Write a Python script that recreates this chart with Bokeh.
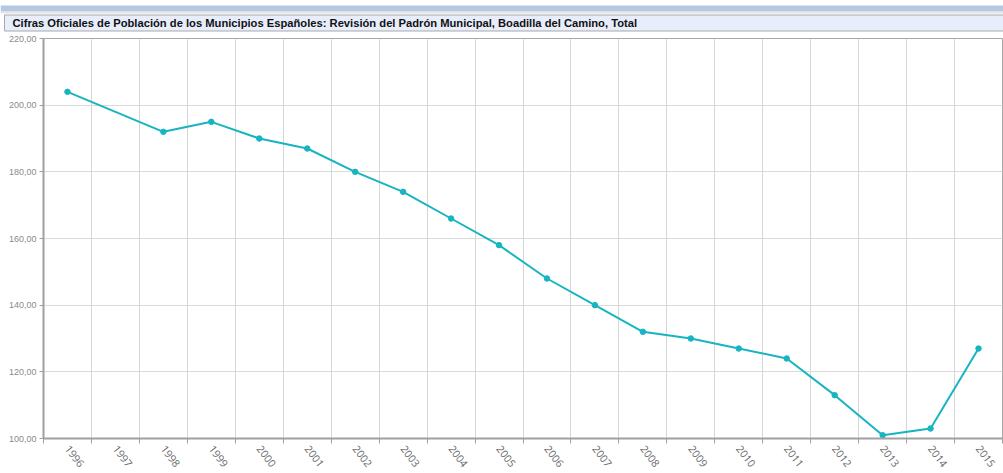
import math
from bokeh.plotting import figure
from bokeh.models import Range1d, FixedTicker, ColumnDataSource
from bokeh.layouts import column
from bokeh.core.properties import value
from bokeh.embed import file_html
from bokeh.resources import INLINE

# ---- data ----
title_text = "Cifras Oficiales de Población de los Municipios Españoles: Revisión del Padrón Municipal, Boadilla del Camino, Total"
years = ["1996", "1997", "1998", "1999", "2000", "2001", "2002", "2003", "2004", "2005",
         "2006", "2007", "2008", "2009", "2010", "2011", "2012", "2013", "2014", "2015"]
population = [204, None, 192, 195, 190, 187, 180, 174, 166, 158,
              148, 140, 132, 130, 127, 124, 113, 101, 103, 127]
y_ticks = [100, 120, 140, 160, 180, 200, 220]
y_tick_labels = ["100,00", "120,00", "140,00", "160,00", "180,00", "200,00", "220,00"]

W = 1003
TOP_H = 34
MAIN_H = 439

# ---- title bar ----
top = figure(width=W, height=TOP_H, output_backend="svg", toolbar_location=None,
             x_range=Range1d(0, W), y_range=Range1d(TOP_H, 0),
             min_border=0, min_border_left=0, min_border_right=0,
             min_border_top=0, min_border_bottom=0)
top.frame_align = False
top.axis.visible = False
top.grid.visible = False
top.outline_line_color = None
top.quad(left=[0], right=[W], top=[5], bottom=[11], fill_color="#b4c8e2", line_color=None)
top.quad(left=[0], right=[W], top=[11], bottom=[13], fill_color="#e4e4e4", line_color=None)
top.quad(left=[4], right=[W + 4], top=[14.5], bottom=[30.5], fill_color="#e7edfa",
         line_color="#a9a9a9", line_width=1)
top.text(x=[12], y=[22.5], text=[title_text], text_font=value("Liberation Sans"),
         text_font_size="11.2px", text_font_style="bold", text_color="#111111",
         text_baseline="middle", text_align="left")

# ---- main chart ----
n = len(years)
p = figure(width=W, height=MAIN_H, output_backend="svg", toolbar_location=None,
           x_range=Range1d(-0.5, n - 0.5), y_range=Range1d(100, 220),
           min_border_left=43, min_border_right=1, min_border_top=4, min_border_bottom=30)
p.frame_align = False

xs = [i for i, v in enumerate(population) if v is not None]
ys = [v for v in population if v is not None]
src = ColumnDataSource(data=dict(x=xs, y=ys))

line_color = "#16b5c1"
p.line("x", "y", source=src, line_color=line_color, line_width=2)
p.scatter("x", "y", source=src, size=5.5, fill_color=line_color, line_color=line_color)

centers = list(range(n))
bounds = [i - 0.5 for i in range(n + 1)]

xa = p.xaxis[0]
xa.ticker = FixedTicker(ticks=centers, minor_ticks=bounds)
xa.major_label_overrides = {i: y for i, y in zip(centers, years)}
xa.major_label_orientation = -0.92
xa.major_tick_line_color = None
xa.major_tick_in = 0
xa.major_tick_out = 0
xa.minor_tick_in = 0
xa.minor_tick_out = 5
xa.minor_tick_line_color = "#a0a0a0"
xa.axis_line_color = "#a0a0a0"
xa.axis_line_width = 2
xa.major_label_text_font = "Open Sans"
xa.major_label_text_font_size = "10.5px"
xa.major_label_text_color = "#6a6a6a"
xa.major_label_standoff = 3

# y axis
ya = p.yaxis[0]
ya.ticker = FixedTicker(ticks=y_ticks)
ya.major_label_overrides = {t: l for t, l in zip(y_ticks, y_tick_labels)}
ya.major_tick_in = 0
ya.major_tick_out = 4
ya.major_tick_line_color = "#a0a0a0"
ya.minor_tick_line_color = None
ya.axis_line_color = "#a0a0a0"
ya.axis_line_width = 2
ya.major_label_text_font = "Liberation Sans"
ya.major_label_text_font_size = "9px"
ya.major_label_text_color = "#8a8a8a"
ya.major_label_standoff = 3

p.xgrid.ticker = FixedTicker(ticks=bounds)
p.xgrid.grid_line_color = "#d6d6d6"
p.ygrid.grid_line_color = "#dadada"
p.outline_line_color = "#a8a8a8"
p.outline_line_width = 1

layout = column(top, p, spacing=0)
open("out.html", "w").write(file_html(layout, INLINE))
